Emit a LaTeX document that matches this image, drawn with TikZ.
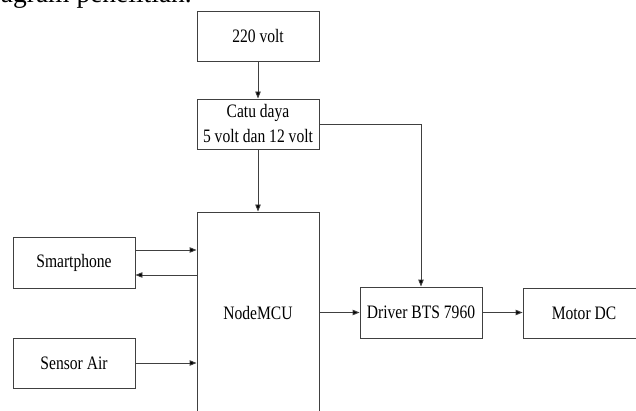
\documentclass[tikz,border=0pt]{standalone}
\usepackage{fontspec}
\setmainfont{Liberation Serif}
\newfontfamily\boxfont{Liberation Serif}[FakeStretch=0.82]
\usetikzlibrary{arrows.meta}
\begin{document}
\begin{tikzpicture}[x=1pt,y=-1pt,
  blk/.style={draw=black!75,line width=0.9pt,rectangle,minimum width=122pt,minimum height=50pt,inner sep=0pt,align=center,font=\boxfont\fontsize{19}{25}\selectfont},
  conn/.style={draw=black!75,line width=0.9pt,-{Triangle[length=7pt,width=5.5pt,fill=black]}},
  plain/.style={draw=black!75,line width=0.9pt}]
\useasboundingbox (0,0) rectangle (636,411);
\clip (0,0) rectangle (636,411);
\node[anchor=base east,font=\fontsize{27.5}{30}\selectfont,inner sep=0pt] (head) at (192,3) {agram penelitian.};
\node[blk] (v220) at (258,36) {220 volt};
\node[blk] (catu) at (258,124) {Catu daya\\5 volt dan 12 volt};
\node[blk,minimum height=202pt] (mcu) at (258,313) {NodeMCU};
\node[blk,minimum height=51pt] (smart) at (74,262.5) {Smartphone};
\node[blk] (sensor) at (74,363) {Sensor Air};
\node[blk,minimum height=51pt] (drv) at (421,312.5) {Driver BTS 7960};
\node[blk] (motor) at (584,313) {Motor DC};
\coordinate (s1) at ([yshift=12.5pt]smart.east);
\coordinate (s2) at ([yshift=-12.5pt]smart.east);
\draw[conn] (v220.south) -- (catu.north);
\draw[conn] (catu.south) -- (mcu.north);
\draw[conn] (catu.east) -| (drv.north);
\draw[conn] (s1) -- (mcu.west |- s1);
\draw[conn] (mcu.west |- s2) -- (s2);
\draw[conn] (sensor.east) -- (mcu.west |- sensor.east);
\draw[conn] (mcu.east |- drv.west) -- (drv.west);
\draw[conn] (drv.east) -- (motor.west |- drv.east);
\end{tikzpicture}
\end{document}
